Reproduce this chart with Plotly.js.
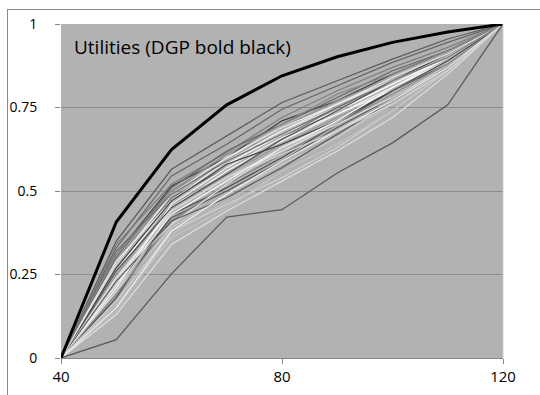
<!DOCTYPE html>
<html>
<head>
<meta charset="utf-8">
<script src="https://cdn.plot.ly/plotly-3.0.1.min.js"></script>
<style>
  html, body { margin: 0; padding: 0; background: #fff; }
  #wrap { position: relative; width: 540px; height: 395px; overflow: hidden; }
  #chart { position: absolute; left: 0; top: 0; width: 540px; height: 395px; }
  #frame { position: absolute; left: 7px; top: 9px; width: 560px; height: 420px;
           border-left: 1px solid #8a8a8a; border-top: 1px solid #8a8a8a; pointer-events: none; }
</style>
</head>
<body>
<div id="wrap">
  <div id="chart"></div>
  <div id="frame"></div>
</div>
<script>
// x categories (thresholds)
const xValues = [40, 50, 60, 70, 80, 90, 100, 110, 120];

// DGP (bold black)
const dgp = [0, 0.407, 0.624, 0.758, 0.845, 0.902, 0.945, 0.976, 1];

// lowest estimated utility curve
const lowCurve = [0, 0.055, 0.252, 0.422, 0.444, 0.554, 0.644, 0.758, 1];

// estimated utility curves (band)
const est01 = [0, 0.35, 0.565, 0.665, 0.765, 0.83, 0.895, 0.955, 1];
const est02 = [0, 0.33, 0.545, 0.64, 0.745, 0.815, 0.885, 0.945, 1];
const est03 = [0, 0.31, 0.515, 0.60, 0.71, 0.77, 0.85, 0.92, 1];
const est04 = [0, 0.34, 0.52, 0.615, 0.72, 0.80, 0.87, 0.93, 1];
const est05 = [0, 0.27, 0.49, 0.60, 0.68, 0.75, 0.83, 0.91, 1];
const est06 = [0, 0.18, 0.43, 0.51, 0.60, 0.70, 0.80, 0.88, 1];
const est07 = [0, 0.23, 0.45, 0.56, 0.65, 0.73, 0.81, 0.89, 1];
const est08 = [0, 0.14, 0.37, 0.47, 0.57, 0.66, 0.76, 0.87, 1];
const est09 = [0, 0.13, 0.34, 0.44, 0.53, 0.62, 0.72, 0.85, 1];
const est10 = [0, 0.29, 0.50, 0.59, 0.69, 0.77, 0.84, 0.91, 1];
const est11 = [0, 0.26, 0.47, 0.58, 0.67, 0.74, 0.82, 0.90, 1];
const est12 = [0, 0.22, 0.42, 0.50, 0.59, 0.69, 0.78, 0.87, 1];
const est13 = [0, 0.20, 0.39, 0.49, 0.58, 0.66, 0.77, 0.88, 1];
const est14 = [0, 0.28, 0.48, 0.57, 0.66, 0.75, 0.83, 0.91, 1];
const est15 = [0, 0.24, 0.44, 0.54, 0.62, 0.70, 0.79, 0.88, 1];
const est16 = [0, 0.25, 0.46, 0.55, 0.64, 0.72, 0.80, 0.89, 1];
const est17 = [0, 0.21, 0.46, 0.57, 0.66, 0.73, 0.80, 0.89, 1];
const est18 = [0, 0.30, 0.51, 0.62, 0.70, 0.78, 0.86, 0.92, 1];
const est19 = [0, 0.17, 0.38, 0.46, 0.54, 0.63, 0.74, 0.86, 1];
const est20 = [0, 0.26, 0.45, 0.55, 0.655, 0.74, 0.83, 0.91, 1];
const est21 = [0, 0.29, 0.47, 0.59, 0.68, 0.76, 0.84, 0.91, 1];
const est22 = [0, 0.19, 0.41, 0.52, 0.61, 0.70, 0.79, 0.88, 1];
const est23 = [0, 0.16, 0.36, 0.45, 0.56, 0.64, 0.74, 0.86, 1];
const est24 = [0, 0.27, 0.47, 0.58, 0.64, 0.71, 0.80, 0.89, 1];
const est25 = [0, 0.22, 0.43, 0.53, 0.63, 0.71, 0.81, 0.90, 1];
const est26 = [0, 0.31, 0.50, 0.61, 0.70, 0.79, 0.85, 0.92, 1];
const est27 = [0, 0.24, 0.40, 0.52, 0.63, 0.70, 0.78, 0.87, 1];
const est28 = [0, 0.23, 0.41, 0.48, 0.57, 0.67, 0.77, 0.87, 1];
const est29 = [0, 0.28, 0.49, 0.60, 0.69, 0.76, 0.83, 0.90, 1];
const est30 = [0, 0.32, 0.49, 0.59, 0.67, 0.75, 0.83, 0.90, 1];
const est31 = [0, 0.15, 0.38, 0.49, 0.59, 0.68, 0.77, 0.87, 1];
const est32 = [0, 0.20, 0.44, 0.54, 0.61, 0.68, 0.76, 0.86, 1];

const bandSeries = [est01, est02, est03, est04, est05, est06, est07, est08,
  est09, est10, est11, est12, est13, est14, est15, est16, est17, est18, est19,
  est20, est21, est22, est23, est24, est25, est26, est27, est28, est29, est30,
  est31, est32];
const bandColors = ['#595959', '#666666', '#404040', '#7f7f7f', '#d9d9d9',
  '#4d4d4d', '#f2f2f2', '#bfbfbf', '#e0e0e0', '#8c8c8c', '#ffffff', '#595959',
  '#cccccc', '#737373', '#e6e6e6', '#999999', '#f7f7f7', '#666666', '#d0d0d0',
  '#4d4d4d', '#ededed', '#808080', '#c4c4c4', '#404040', '#fafafa', '#8a8a8a',
  '#dedede', '#5e5e5e', '#ebebeb', '#707070', '#f0f0f0', '#d4d4d4'];

const titleText = 'Utilities (DGP bold black)';
const xTicks = [40, 80, 120];
const yTicks = [0, 0.25, 0.5, 0.75, 1];
const yTickText = ['0', '0.25', '0.5', '0.75', '1'];

const traces = [];
bandSeries.forEach((s, i) => {
  traces.push({x: xValues, y: s, type: 'scatter', mode: 'lines',
    line: {color: bandColors[i], width: 1.2}, hoverinfo: 'skip'});
});
traces.push({x: xValues, y: lowCurve, type: 'scatter', mode: 'lines',
  line: {color: '#5a5a5a', width: 1.3}, hoverinfo: 'skip'});
traces.push({x: xValues, y: dgp, type: 'scatter', mode: 'lines',
  line: {color: '#000000', width: 3}, hoverinfo: 'skip'});

const axisColor = '#868686';
const layout = {
  width: 540, height: 395,
  margin: {l: 61, r: 37, t: 24, b: 37, pad: 0},
  paper_bgcolor: '#ffffff',
  plot_bgcolor: '#b2b2b2',
  showlegend: false,
  font: {family: 'Open Sans, sans-serif', size: 15, color: '#000'},
  xaxis: {
    range: [40, 120], tickmode: 'array', tickvals: xTicks,
    showgrid: false, zeroline: false,
    showline: true, linecolor: axisColor, linewidth: 1,
    ticks: 'outside', ticklen: 5, tickcolor: axisColor, tickwidth: 1,
    tickfont: {family: 'Open Sans, sans-serif', size: 15, color: '#000'},
    fixedrange: true
  },
  yaxis: {
    range: [0, 1], tickmode: 'array', tickvals: yTicks, ticktext: yTickText,
    showgrid: true, gridcolor: '#8c8c8c', gridwidth: 1, zeroline: false,
    showline: false,
    ticks: 'outside', ticklen: 5, tickcolor: axisColor, tickwidth: 1,
    ticklabelstandoff: 15,
    tickfont: {family: 'Open Sans, sans-serif', size: 14, color: '#000'},
    fixedrange: true
  },
  shapes: [
    {type: 'line', xref: 'paper', yref: 'paper', x0: 1, x1: 1, y0: 0, y1: 1,
     line: {color: '#d0d0d0', width: 1}}
  ],
  annotations: [
    {text: titleText, xref: 'paper', yref: 'paper', x: 0.024, y: 0.932,
     xanchor: 'left', yanchor: 'middle', showarrow: false,
     font: {family: 'Open Sans, sans-serif', size: 19, color: '#000'}}
  ]
};

Plotly.newPlot('chart', traces, layout, {displayModeBar: false, staticPlot: true});
</script>
</body>
</html>
